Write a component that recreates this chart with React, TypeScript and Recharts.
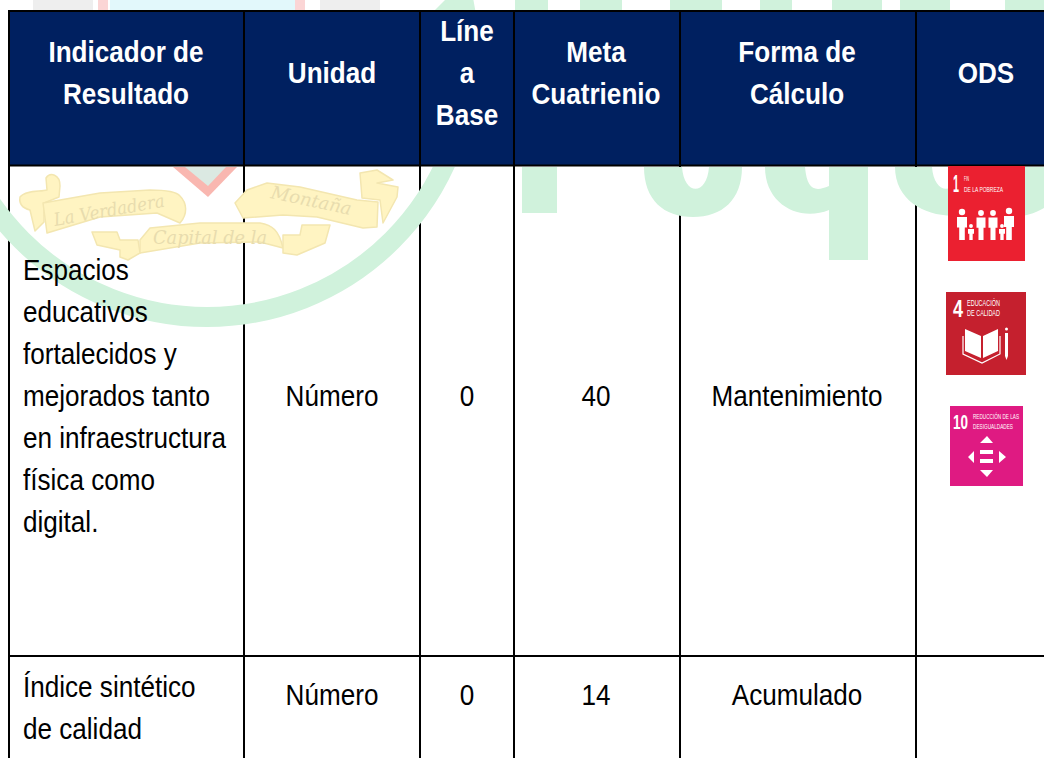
import { ReferenceArea, ReferenceLine, Scatter, ScatterChart, XAxis, YAxis } from 'recharts';

const WIDTH = 1044;
const HEIGHT = 758;

const headers = [
  ['Indicador de', 'Resultado'],
  ['Unidad'],
  ['Líne', 'a', 'Base'],
  ['Meta', 'Cuatrienio'],
  ['Forma de', 'Cálculo'],
  ['ODS'],
];
const firstIndicator = [
  'Espacios',
  'educativos',
  'fortalecidos y',
  'mejorados tanto',
  'en infraestructura',
  'física como',
  'digital.',
];
const secondIndicator = ['Índice sintético', 'de calidad'];
const firstRow = ['Número', '0', '40', 'Mantenimiento'];
const secondRow = ['Número', '0', '14', 'Acumulado'];

const sdgOne = { number: '1', lines: ['FIN', 'DE LA POBREZA'] };
const sdgFour = { number: '4', lines: ['EDUCACIÓN', 'DE CALIDAD'] };
const sdgTen = { number: '10', lines: ['REDUCCIÓN DE LAS', 'DESIGUALDADES'] };
const ribbonWords = ['La Verdadera', 'Capital de la', 'Montaña'];

// table layout
const COLUMN_LINES = [9, 244, 420, 514, 680, 916];
const COLUMN_CENTERS = [126, 332, 467, 596, 797, 986];
const ROW_LINES = [11, 165.5, 656];
const LINE_HEIGHT = 42;
const FONT = '"Liberation Sans", Arial, sans-serif';
const GREEN = '#d0f2dc';

const headerCells = headers.flatMap((lines, col) =>
  lines.map((text, i) => ({
    x: COLUMN_CENTERS[col],
    y: 83 + (i - (lines.length - 1) / 2) * LINE_HEIGHT,
    text,
  })),
);
const indicatorCells = [
  ...firstIndicator.map((text, i) => ({ x: 23, y: 280 + i * LINE_HEIGHT, text })),
  ...secondIndicator.map((text, i) => ({ x: 23, y: 697 + i * LINE_HEIGHT, text })),
];
const bodyCells = [
  ...firstRow.map((text, i) => ({ x: COLUMN_CENTERS[i + 1], y: 406, text })),
  ...secondRow.map((text, i) => ({ x: COLUMN_CENTERS[i + 1], y: 705, text })),
];
const ORIGIN = [{ x: 0, y: 0 }];

function tableText(weight: string, fill: string, anchor: string) {
  return (props: any) => (
    <text
      transform={`translate(${props.cx},${props.cy}) scale(0.9,1)`}
      textAnchor={anchor}
      fontFamily={FONT}
      fontSize={29}
      fontWeight={weight}
      fill={fill}
    >
      {props.payload.text}
    </text>
  );
}

function Watermark() {
  return (
    <g>
      <defs>
        <clipPath id="below-header">
          <rect x={0} y={167} width={WIDTH} height={HEIGHT} />
          <rect x={0} y={0} width={WIDTH} height={10} />
        </clipPath>
      </defs>
      <g clipPath="url(#below-header)">
        {/* shield pieces above the table */}
        <rect x={33} y={0} width={60} height={10} fill="#eeeeee" />
        <rect x={98} y={0} width={10} height={10} fill="#fbd5d5" />
        <rect x={110} y={0} width={185} height={10} fill="#e2f8fb" />
        <rect x={295} y={0} width={10} height={10} fill="#fbd5d5" />
        <rect x={320} y={0} width={60} height={10} fill="#eeeeee" />
        {/* big town name behind the table */}
        <path d="M435 10 L445 0 H462 L455 10 Z" fill={GREEN} />
        <path d="M515 10 V0 H548 V10 Z M580 10 V0 H622 V10 Z M670 10 V0 H722 V10 Z M760 10 V0 H792 V10 Z M832 10 V0 H882 V10 Z M900 10 V0 H950 V10 Z M1005 10 V0 H1044 V10 Z" fill={GREEN} />
        <path d="M522 167 H557 V213 H522 Z" fill={GREEN} />
        <path d="M644 167 H682 C684 196 707 196 709 167 H742 C742 200 722 217 693 217 C664 217 644 200 644 167 Z" fill={GREEN} />
        <path d="M765 167 H805 C807 190 815 192 829 186 V167 H868 V260 H829 V210 C800 222 765 205 765 167 Z" fill={GREEN} />
        <path d="M895 167 H932 C934 196 958 196 960 167 H998 C1000 196 1022 196 1024 167 H1044 V208 C1020 222 1000 216 985 208 C950 226 895 212 895 167 Z" fill={GREEN} />
        <circle cx={207} cy={55} r={262} fill="none" stroke={GREEN} strokeWidth={20} />
        {/* shield tip */}
        <path d="M173 167 H237 L208 197 Z" fill="#f9b7b0" />
        <path d="M185 167 H226 L208 186 Z" fill="#dbe9e2" />
        {/* ribbons */}
        <g fill="#fff4c2" stroke="#f3e6b0" strokeWidth={1.5} strokeLinejoin="round">
          <path d="M20 197 C26 190 40 192 47 190 L46 178 C50 172 60 174 60 186 L59 197 L44 203 L44 222 L35 231 L30 210 C22 208 19 203 20 197 Z" />
          <path d="M43 203 L100 193 L150 190 C165 190 176 191 180 196 C187 203 188 214 180 223 L157 213 L100 217 L47 233 Z" />
          <path d="M92 232 L117 232 L120 240 L138 240 L140 253 L128 260 L120 257 L120 250 L97 245 Z" />
          <path d="M140 240 L150 228 L200 223 L260 223 C272 225 279 230 283 248 L260 242 L200 243 L140 253 Z" />
          <path d="M283 235 L300 235 L302 225 L330 225 L325 243 L297 255 L283 253 Z" />
          <path d="M235 203 L247 190 L267 183 L300 187 L357 200 L378 202 L377 227 L363 228 L317 217 L283 215 L243 218 Z" />
          <path d="M360 173 L377 170 L393 180 L377 183 L398 187 L397 197 L383 223 L380 200 L362 198 Z" />
        </g>
        <g fill="#e8dcae" fontFamily='"DejaVu Serif", serif' fontStyle="italic" fontSize={18}>
          <text x={55} y={226} transform="rotate(-10 55 226)" textLength={112} lengthAdjust="spacingAndGlyphs">{ribbonWords[0]}</text>
          <text x={153} y={244} textLength={114} lengthAdjust="spacingAndGlyphs">{ribbonWords[1]}</text>
          <text x={270} y={198} transform="rotate(12 270 198)" textLength={82} lengthAdjust="spacingAndGlyphs">{ribbonWords[2]}</text>
        </g>
      </g>
    </g>
  );
}

function badgeText(text: string, x: number, y: number, w: number, size: number, weight = 'normal') {
  return (
    <text
      x={x}
      y={y}
      textLength={w}
      lengthAdjust="spacingAndGlyphs"
      fontFamily={FONT}
      fontSize={size}
      fontWeight={weight}
      fill="#ffffff"
    >
      {text}
    </text>
  );
}

function figure(x: number, headY: number, w: number, bottom: number) {
  return (
    <g key={x} fill="#ffffff">
      <circle cx={x} cy={headY} r={w * 0.32} />
      <path
        d={`M${x - w / 2} ${headY + w * 0.5} H${x + w / 2} V${headY + (bottom - headY) * 0.55} H${x + w * 0.28} V${bottom} H${x - w * 0.28} V${headY + (bottom - headY) * 0.55} H${x - w / 2} Z`}
      />
    </g>
  );
}

function Badges() {
  return (
    <g>
      <rect x={948} y={166} width={77} height={95} fill="#eb2030" />
      {badgeText(sdgOne.number, 953, 192, 6, 23, 'bold')}
      {badgeText(sdgOne.lines[0], 964, 181, 5, 7)}
      {badgeText(sdgOne.lines[1], 964, 192, 39, 7.5)}
      {figure(962, 212, 10, 240)}
      {figure(971, 226, 6, 240)}
      {figure(981, 213, 9, 240)}
      {figure(993, 213, 9, 240)}
      {figure(1002, 226, 6, 240)}
      {figure(1009, 211, 10, 240)}

      <rect x={946} y={292} width={80} height={83} fill="#c5202e" />
      {badgeText(sdgFour.number, 953, 317, 10, 24, 'bold')}
      {badgeText(sdgFour.lines[0], 967, 306, 33, 8.5)}
      {badgeText(sdgFour.lines[1], 967, 316, 33, 8.5)}
      <path d="M965 329 L981 336 V358 L965 351 Z M998 329 L983 336 V358 L998 351 Z" fill="#ffffff" />
      <path d="M963 336 V354 L982 363 L1000 354 V336" fill="none" stroke="#ffffff" strokeWidth={1.2} />
      <path d="M1005 333 H1008 V356 L1006.5 360 L1005 356 Z" fill="#ffffff" />
      <circle cx={1006.5} cy={329} r={1.5} fill="#ffffff" />

      <rect x={950} y={406} width={73} height={80} fill="#df1a82" />
      {badgeText(sdgTen.number, 953, 429, 15, 21, 'bold')}
      {badgeText(sdgTen.lines[0], 973, 419, 46, 7)}
      {badgeText(sdgTen.lines[1], 973, 429, 40, 7)}
      <path
        d="M987 436 L993 443 H980 Z M987 477 L980 470 H993 Z M968 457 L974 451 V463 Z M1006 457 L999 451 V463 Z M980 450 H993 V454 H980 Z M980 459 H993 V463 H980 Z"
        fill="#ffffff"
      />
    </g>
  );
}

export default function App() {
  return (
    <div style={{ position: 'absolute', left: 0, top: 0, width: WIDTH, height: HEIGHT, background: '#ffffff' }}>
      <ScatterChart width={WIDTH} height={HEIGHT} margin={{ top: 0, right: 0, bottom: 0, left: 0 }}>
        <XAxis type="number" dataKey="x" domain={[0, WIDTH]} hide />
        <YAxis type="number" dataKey="y" domain={[0, HEIGHT]} reversed hide />
        <Scatter data={ORIGIN} shape={() => <Watermark />} isAnimationActive={false} />
        <ReferenceArea x1={COLUMN_LINES[0]} x2={WIDTH} y1={ROW_LINES[0]} y2={ROW_LINES[1]} fill="#002060" fillOpacity={1} stroke="none" />
        {COLUMN_LINES.map((x) => (
          <ReferenceLine key={x} stroke="#000000" strokeWidth={2} segment={[{ x, y: ROW_LINES[0] - 1 }, { x, y: HEIGHT }]} />
        ))}
        {ROW_LINES.map((y) => (
          <ReferenceLine key={y} stroke="#000000" strokeWidth={2} segment={[{ x: COLUMN_LINES[0] - 1, y }, { x: WIDTH, y }]} />
        ))}
        <Scatter data={headerCells} shape={tableText('bold', '#ffffff', 'middle')} isAnimationActive={false} />
        <Scatter data={indicatorCells} shape={tableText('normal', '#000000', 'start')} isAnimationActive={false} />
        <Scatter data={bodyCells} shape={tableText('normal', '#000000', 'middle')} isAnimationActive={false} />
        <Scatter data={ORIGIN} shape={() => <Badges />} isAnimationActive={false} />
      </ScatterChart>
    </div>
  );
}
